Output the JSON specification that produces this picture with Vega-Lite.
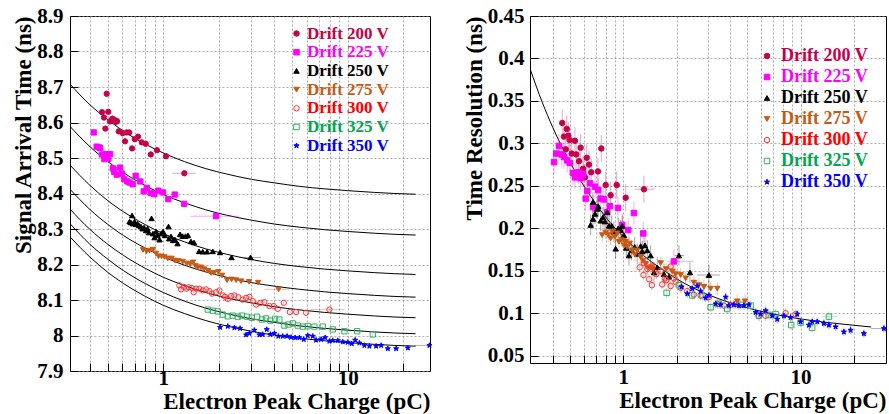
{
"$schema": "https://vega.github.io/schema/vega-lite/v6.json",
"padding": {"left": 12, "top": 4, "right": 2, "bottom": 0},
"spacing": 27,
"config": {
 "view": {"stroke": "#000", "strokeWidth": 1},
 "axis": {"labelFont": "Liberation Serif", "labelFontWeight": "bold", "labelFontSize": 21, "labelColor": "#000", "titleFont": "Liberation Serif", "titleFontWeight": "bold", "titleFontSize": 23, "titleColor": "#000", "domain": false, "grid": true, "gridColor": "#888", "gridDash": [2, 2], "gridWidth": 0.7, "tickColor": "#000", "tickSize": -8, "labelOverlap": false, "labelFlush": false},
 "legend": {"labelFont": "Liberation Serif", "labelFontWeight": "bold", "labelFontSize": 18, "symbolSize": 30, "symbolStrokeWidth": 1, "symbolOpacity": 1, "padding": 0}
},
"datasets": {
 "EL": [{"s":"200","e":0.008},{"s":"225","e":0.006},{"s":"250","e":0.005},{"s":"275","e":0.004},{"s":"300","e":0.004},{"s":"325","e":0.003},{"s":"350","e":0.002}],
 "ER": [{"s":"200","e":0.016},{"s":"225","e":0.014},{"s":"250","e":0.012},{"s":"275","e":0.008},{"s":"300","e":0.006},{"s":"325","e":0.006},{"s":"350","e":0.005}],
 "L": [
{"s":"200","x":0.465,"y":8.629},{"s":"200","x":0.477,"y":8.614},{"s":"200","x":0.493,"y":8.681},{"s":"200","x":0.485,"y":8.583},{"s":"200","x":0.503,"y":8.630},{"s":"200","x":0.514,"y":8.603},{"s":"200","x":0.529,"y":8.611},{"s":"200","x":0.542,"y":8.608},{"s":"200","x":0.554,"y":8.602},{"s":"200","x":0.561,"y":8.604},{"s":"200","x":0.573,"y":8.575},{"s":"200","x":0.602,"y":8.570},{"s":"200","x":0.620,"y":8.547},{"s":"200","x":0.633,"y":8.572},{"s":"200","x":0.654,"y":8.572},{"s":"200","x":0.677,"y":8.527},{"s":"200","x":0.700,"y":8.553},{"s":"200","x":0.729,"y":8.560},{"s":"200","x":0.764,"y":8.544},{"s":"200","x":0.803,"y":8.540},{"s":"200","x":0.855,"y":8.510},{"s":"200","x":0.924,"y":8.522},{"s":"200","x":1.034,"y":8.505},{"s":"200","x":1.300,"y":8.457,"xl":1.115,"xh":1.50},
{"s":"225","x":0.4195,"y":8.572},{"s":"225","x":0.435,"y":8.532},{"s":"225","x":0.448,"y":8.530},{"s":"225","x":0.454,"y":8.528},{"s":"225","x":0.465,"y":8.510},{"s":"225","x":0.479,"y":8.497},{"s":"225","x":0.491,"y":8.511},{"s":"225","x":0.503,"y":8.498},{"s":"225","x":0.514,"y":8.511},{"s":"225","x":0.532,"y":8.471},{"s":"225","x":0.542,"y":8.461},{"s":"225","x":0.559,"y":8.453},{"s":"225","x":0.582,"y":8.473},{"s":"225","x":0.597,"y":8.456},{"s":"225","x":0.614,"y":8.440},{"s":"225","x":0.638,"y":8.434},{"s":"225","x":0.657,"y":8.431},{"s":"225","x":0.682,"y":8.426},{"s":"225","x":0.708,"y":8.450},{"s":"225","x":0.750,"y":8.434},{"s":"225","x":0.783,"y":8.406},{"s":"225","x":0.813,"y":8.416},{"s":"225","x":0.855,"y":8.401},{"s":"225","x":0.894,"y":8.398},{"s":"225","x":0.939,"y":8.408},{"s":"225","x":0.996,"y":8.403},{"s":"225","x":1.064,"y":8.384},{"s":"225","x":1.153,"y":8.397},{"s":"225","x":1.295,"y":8.371},{"s":"225","x":1.931,"y":8.336,"xl":1.40,"xh":2.58},
{"s":"250","x":0.656,"y":8.321},{"s":"250","x":0.668,"y":8.318},{"s":"250","x":0.677,"y":8.338},{"s":"250","x":0.685,"y":8.315},{"s":"250","x":0.698,"y":8.321},{"s":"250","x":0.711,"y":8.313},{"s":"250","x":0.725,"y":8.315},{"s":"250","x":0.738,"y":8.310},{"s":"250","x":0.757,"y":8.307},{"s":"250","x":0.771,"y":8.301},{"s":"250","x":0.786,"y":8.304},{"s":"250","x":0.806,"y":8.296},{"s":"250","x":0.821,"y":8.301},{"s":"250","x":0.863,"y":8.330},{"s":"250","x":0.836,"y":8.290},{"s":"250","x":0.879,"y":8.287},{"s":"250","x":0.896,"y":8.276},{"s":"250","x":0.913,"y":8.293},{"s":"250","x":0.930,"y":8.282},{"s":"250","x":0.954,"y":8.270},{"s":"250","x":0.972,"y":8.287},{"s":"250","x":0.996,"y":8.293},{"s":"250","x":1.021,"y":8.282},{"s":"250","x":1.067,"y":8.307},{"s":"250","x":1.074,"y":8.273},{"s":"250","x":1.101,"y":8.279},{"s":"250","x":1.129,"y":8.268},{"s":"250","x":1.157,"y":8.270},{"s":"250","x":1.194,"y":8.259},{"s":"250","x":1.232,"y":8.285},{"s":"250","x":1.271,"y":8.280},{"s":"250","x":1.320,"y":8.280},{"s":"250","x":1.361,"y":8.282},{"s":"250","x":1.413,"y":8.265},{"s":"250","x":1.467,"y":8.262},{"s":"250","x":1.562,"y":8.237},{"s":"250","x":1.636,"y":8.236},{"s":"250","x":1.726,"y":8.236},{"s":"250","x":1.853,"y":8.237},{"s":"250","x":2.030,"y":8.234},{"s":"250","x":2.343,"y":8.220},{"s":"250","x":2.971,"y":8.220,"xl":2.58,"xh":3.39},
{"s":"275","x":0.776,"y":8.241},{"s":"275","x":0.811,"y":8.237},{"s":"275","x":0.842,"y":8.239},{"s":"275","x":0.879,"y":8.242},{"s":"275","x":0.913,"y":8.231},{"s":"275","x":0.942,"y":8.223},{"s":"275","x":0.978,"y":8.223},{"s":"275","x":1.015,"y":8.221},{"s":"275","x":1.057,"y":8.217},{"s":"275","x":1.108,"y":8.217},{"s":"275","x":1.157,"y":8.211},{"s":"275","x":1.209,"y":8.210},{"s":"275","x":1.274,"y":8.208},{"s":"275","x":1.336,"y":8.203},{"s":"275","x":1.396,"y":8.201},{"s":"275","x":1.449,"y":8.206},{"s":"275","x":1.495,"y":8.196},{"s":"275","x":1.542,"y":8.192},{"s":"275","x":1.601,"y":8.192},{"s":"275","x":1.663,"y":8.187},{"s":"275","x":1.747,"y":8.182},{"s":"275","x":1.814,"y":8.176},{"s":"275","x":1.890,"y":8.177},{"s":"275","x":1.987,"y":8.179},{"s":"275","x":2.082,"y":8.169},{"s":"275","x":2.215,"y":8.156},{"s":"275","x":2.343,"y":8.158},{"s":"275","x":2.479,"y":8.156},{"s":"275","x":2.639,"y":8.153},{"s":"275","x":2.916,"y":8.151},{"s":"275","x":3.263,"y":8.149},{"s":"275","x":4.215,"y":8.130,"xl":3.53,"xh":4.82},
{"s":"300","x":1.221,"y":8.141},{"s":"300","x":1.247,"y":8.130},{"s":"300","x":1.290,"y":8.137},{"s":"300","x":1.332,"y":8.132},{"s":"300","x":1.373,"y":8.136},{"s":"300","x":1.426,"y":8.134},{"s":"300","x":1.462,"y":8.122},{"s":"300","x":1.504,"y":8.132},{"s":"300","x":1.568,"y":8.132},{"s":"300","x":1.636,"y":8.127},{"s":"300","x":1.704,"y":8.130},{"s":"300","x":1.776,"y":8.125},{"s":"300","x":1.837,"y":8.118},{"s":"300","x":1.931,"y":8.122},{"s":"300","x":2.012,"y":8.127},{"s":"300","x":2.100,"y":8.113},{"s":"300","x":2.161,"y":8.109},{"s":"300","x":2.235,"y":8.103},{"s":"300","x":2.328,"y":8.111},{"s":"300","x":2.427,"y":8.113},{"s":"300","x":2.551,"y":8.108},{"s":"300","x":2.696,"y":8.101},{"s":"300","x":2.809,"y":8.106},{"s":"300","x":2.928,"y":8.109},{"s":"300","x":3.054,"y":8.097},{"s":"300","x":3.183,"y":8.087},{"s":"300","x":3.358,"y":8.092},{"s":"300","x":3.529,"y":8.094},{"s":"300","x":3.757,"y":8.083},{"s":"300","x":3.970,"y":8.083},{"s":"300","x":4.173,"y":8.075},{"s":"300","x":4.498,"y":8.092},{"s":"300","x":4.849,"y":8.066},{"s":"300","x":5.245,"y":8.066},{"s":"300","x":5.940,"y":8.064},{"s":"300","x":7.948,"y":8.073,"xl":6.31,"xh":9.60},
{"s":"325","x":1.741,"y":8.073},{"s":"325","x":1.853,"y":8.070},{"s":"325","x":1.972,"y":8.068},{"s":"325","x":2.100,"y":8.059},{"s":"325","x":2.235,"y":8.054},{"s":"325","x":2.378,"y":8.056},{"s":"325","x":2.532,"y":8.053},{"s":"325","x":2.662,"y":8.056},{"s":"325","x":2.844,"y":8.053},{"s":"325","x":3.016,"y":8.050},{"s":"325","x":3.222,"y":8.053},{"s":"325","x":3.429,"y":8.045},{"s":"325","x":3.605,"y":8.048},{"s":"325","x":3.804,"y":8.042},{"s":"325","x":4.034,"y":8.047},{"s":"325","x":4.256,"y":8.045},{"s":"325","x":4.531,"y":8.028},{"s":"325","x":4.763,"y":8.031},{"s":"325","x":5.031,"y":8.034},{"s":"325","x":5.356,"y":8.028},{"s":"325","x":5.702,"y":8.025},{"s":"325","x":6.069,"y":8.026},{"s":"325","x":6.592,"y":8.025},{"s":"325","x":7.318,"y":8.025},{"s":"325","x":8.291,"y":8.017},{"s":"325","x":9.585,"y":8.012},{"s":"325","x":11.23,"y":8.012},{"s":"325","x":13.66,"y":8.003},
{"s":"350","x":2.030,"y":8.023},{"s":"350","x":2.235,"y":8.026},{"s":"350","x":2.427,"y":8.022},{"s":"350","x":2.606,"y":8.020},{"s":"350","x":2.809,"y":8.002},{"s":"350","x":2.928,"y":8.006},{"s":"350","x":3.115,"y":8.015},{"s":"350","x":3.316,"y":8.002},{"s":"350","x":3.459,"y":8.003},{"s":"350","x":3.637,"y":8.017},{"s":"350","x":3.804,"y":8.003},{"s":"350","x":3.999,"y":8.006},{"s":"350","x":4.204,"y":7.998},{"s":"350","x":4.441,"y":7.998},{"s":"350","x":4.686,"y":7.998},{"s":"350","x":4.926,"y":7.995},{"s":"350","x":5.179,"y":7.994},{"s":"350","x":5.464,"y":7.994},{"s":"350","x":5.773,"y":7.989},{"s":"350","x":6.069,"y":8.000},{"s":"350","x":6.460,"y":7.998},{"s":"350","x":6.732,"y":7.987},{"s":"350","x":7.166,"y":7.989},{"s":"350","x":7.533,"y":7.994},{"s":"350","x":7.948,"y":7.984},{"s":"350","x":8.291,"y":7.986},{"s":"350","x":8.826,"y":7.986},{"s":"350","x":9.396,"y":7.982},{"s":"350","x":10.0,"y":7.981},{"s":"350","x":10.51,"y":7.977},{"s":"350","x":10.96,"y":7.987},{"s":"350","x":11.56,"y":7.979},{"s":"350","x":12.30,"y":7.972},{"s":"350","x":13.10,"y":7.970},{"s":"350","x":14.24,"y":7.970},{"s":"350","x":15.16,"y":7.972},{"s":"350","x":16.48,"y":7.963},{"s":"350","x":18.28,"y":7.963},{"s":"350","x":21.16,"y":7.965},{"s":"350","x":27.70,"y":7.972,"xl":23.0,"xh":33.0}
 ],
 "LF": [
{"c":1,"x":0.312,"y":8.708},{"c":1,"x":0.4,"y":8.650},{"c":1,"x":0.5,"y":8.608},{"c":1,"x":0.65,"y":8.566},{"c":1,"x":0.8,"y":8.539},{"c":1,"x":1,"y":8.514},{"c":1,"x":1.3,"y":8.490},{"c":1,"x":1.7,"y":8.470},{"c":1,"x":2.2,"y":8.455},{"c":1,"x":3,"y":8.440},{"c":1,"x":4,"y":8.430},{"c":1,"x":5.5,"y":8.420},{"c":1,"x":7.5,"y":8.413},{"c":1,"x":10,"y":8.408},{"c":1,"x":14,"y":8.403},{"c":1,"x":18,"y":8.400},{"c":1,"x":23.3,"y":8.398},
{"c":2,"x":0.312,"y":8.589},{"c":2,"x":0.4,"y":8.532},{"c":2,"x":0.5,"y":8.490},{"c":2,"x":0.65,"y":8.449},{"c":2,"x":0.8,"y":8.422},{"c":2,"x":1,"y":8.397},{"c":2,"x":1.3,"y":8.374},{"c":2,"x":1.7,"y":8.354},{"c":2,"x":2.2,"y":8.339},{"c":2,"x":3,"y":8.325},{"c":2,"x":4,"y":8.314},{"c":2,"x":5.5,"y":8.305},{"c":2,"x":7.5,"y":8.298},{"c":2,"x":10,"y":8.293},{"c":2,"x":14,"y":8.288},{"c":2,"x":18,"y":8.285},{"c":2,"x":23.3,"y":8.283},
{"c":3,"x":0.312,"y":8.480},{"c":3,"x":0.4,"y":8.423},{"c":3,"x":0.5,"y":8.380},{"c":3,"x":0.65,"y":8.339},{"c":3,"x":0.8,"y":8.312},{"c":3,"x":1,"y":8.287},{"c":3,"x":1.3,"y":8.264},{"c":3,"x":1.7,"y":8.244},{"c":3,"x":2.2,"y":8.229},{"c":3,"x":3,"y":8.214},{"c":3,"x":4,"y":8.203},{"c":3,"x":5.5,"y":8.194},{"c":3,"x":7.5,"y":8.187},{"c":3,"x":10,"y":8.182},{"c":3,"x":14,"y":8.177},{"c":3,"x":18,"y":8.174},{"c":3,"x":23.3,"y":8.172},
{"c":4,"x":0.312,"y":8.412},{"c":4,"x":0.4,"y":8.355},{"c":4,"x":0.5,"y":8.313},{"c":4,"x":0.65,"y":8.272},{"c":4,"x":0.8,"y":8.246},{"c":4,"x":1,"y":8.222},{"c":4,"x":1.3,"y":8.198},{"c":4,"x":1.7,"y":8.179},{"c":4,"x":2.2,"y":8.164},{"c":4,"x":3,"y":8.149},{"c":4,"x":4,"y":8.139},{"c":4,"x":5.5,"y":8.130},{"c":4,"x":7.5,"y":8.123},{"c":4,"x":10,"y":8.118},{"c":4,"x":14,"y":8.113},{"c":4,"x":18,"y":8.110},{"c":4,"x":23.3,"y":8.108},
{"c":5,"x":0.312,"y":8.356},{"c":5,"x":0.4,"y":8.299},{"c":5,"x":0.5,"y":8.257},{"c":5,"x":0.65,"y":8.216},{"c":5,"x":0.8,"y":8.189},{"c":5,"x":1,"y":8.164},{"c":5,"x":1.3,"y":8.141},{"c":5,"x":1.7,"y":8.121},{"c":5,"x":2.2,"y":8.106},{"c":5,"x":3,"y":8.092},{"c":5,"x":4,"y":8.081},{"c":5,"x":5.5,"y":8.072},{"c":5,"x":7.5,"y":8.065},{"c":5,"x":10,"y":8.060},{"c":5,"x":14,"y":8.055},{"c":5,"x":18,"y":8.052},{"c":5,"x":23.3,"y":8.050},
{"c":6,"x":0.312,"y":8.315},{"c":6,"x":0.4,"y":8.257},{"c":6,"x":0.5,"y":8.215},{"c":6,"x":0.65,"y":8.173},{"c":6,"x":0.8,"y":8.146},{"c":6,"x":1,"y":8.121},{"c":6,"x":1.3,"y":8.097},{"c":6,"x":1.7,"y":8.077},{"c":6,"x":2.2,"y":8.062},{"c":6,"x":3,"y":8.047},{"c":6,"x":4,"y":8.037},{"c":6,"x":5.5,"y":8.027},{"c":6,"x":7.5,"y":8.020},{"c":6,"x":10,"y":8.015},{"c":6,"x":14,"y":8.010},{"c":6,"x":18,"y":8.007},{"c":6,"x":23.3,"y":8.005},
{"c":7,"x":0.312,"y":8.278},{"c":7,"x":0.4,"y":8.221},{"c":7,"x":0.5,"y":8.178},{"c":7,"x":0.65,"y":8.137},{"c":7,"x":0.8,"y":8.110},{"c":7,"x":1,"y":8.085},{"c":7,"x":1.3,"y":8.062},{"c":7,"x":1.7,"y":8.042},{"c":7,"x":2.2,"y":8.027},{"c":7,"x":3,"y":8.012},{"c":7,"x":4,"y":8.001},{"c":7,"x":5.5,"y":7.992},{"c":7,"x":7.5,"y":7.985},{"c":7,"x":10,"y":7.980},{"c":7,"x":14,"y":7.975},{"c":7,"x":18,"y":7.972},{"c":7,"x":23.3,"y":7.970}
 ],
 "R": [
{"s":"200","x":0.453,"y":0.324},{"s":"200","x":0.480,"y":0.317},{"s":"200","x":0.463,"y":0.308},{"s":"200","x":0.490,"y":0.309},{"s":"200","x":0.499,"y":0.304},{"s":"200","x":0.534,"y":0.303},{"s":"200","x":0.474,"y":0.293},{"s":"200","x":0.512,"y":0.288},{"s":"200","x":0.543,"y":0.287},{"s":"200","x":0.575,"y":0.295},{"s":"200","x":0.563,"y":0.279},{"s":"200","x":0.593,"y":0.270},{"s":"200","x":0.622,"y":0.283},{"s":"200","x":0.641,"y":0.275},{"s":"200","x":0.660,"y":0.266},{"s":"200","x":0.608,"y":0.260},{"s":"200","x":0.720,"y":0.267},{"s":"200","x":0.752,"y":0.294},{"s":"200","x":0.796,"y":0.251},{"s":"200","x":0.849,"y":0.239},{"s":"200","x":0.918,"y":0.251},{"s":"200","x":1.032,"y":0.236},{"s":"200","x":1.308,"y":0.246,"xl":1.16,"xh":1.51},
{"s":"225","x":0.407,"y":0.278},{"s":"225","x":0.419,"y":0.288},{"s":"225","x":0.434,"y":0.297},{"s":"225","x":0.450,"y":0.287},{"s":"225","x":0.463,"y":0.284},{"s":"225","x":0.483,"y":0.280},{"s":"225","x":0.499,"y":0.277},{"s":"225","x":0.521,"y":0.265},{"s":"225","x":0.534,"y":0.260},{"s":"225","x":0.558,"y":0.266},{"s":"225","x":0.575,"y":0.259},{"s":"225","x":0.595,"y":0.264},{"s":"225","x":0.614,"y":0.235},{"s":"225","x":0.627,"y":0.244},{"s":"225","x":0.649,"y":0.253},{"s":"225","x":0.675,"y":0.225},{"s":"225","x":0.693,"y":0.249},{"s":"225","x":0.723,"y":0.245},{"s":"225","x":0.746,"y":0.235},{"s":"225","x":0.778,"y":0.234},{"s":"225","x":0.812,"y":0.219},{"s":"225","x":0.841,"y":0.226},{"s":"225","x":0.933,"y":0.224},{"s":"225","x":0.987,"y":0.204},{"s":"225","x":1.067,"y":0.198},{"s":"225","x":1.149,"y":0.218},{"s":"225","x":1.296,"y":0.194},{"s":"225","x":1.931,"y":0.161,"xl":1.76,"xh":2.48},
{"s":"250","x":0.655,"y":0.204},{"s":"250","x":0.675,"y":0.211},{"s":"250","x":0.675,"y":0.231},{"s":"250","x":0.693,"y":0.217},{"s":"250","x":0.714,"y":0.223},{"s":"250","x":0.723,"y":0.226},{"s":"250","x":0.746,"y":0.209},{"s":"250","x":0.768,"y":0.213},{"s":"250","x":0.789,"y":0.208},{"s":"250","x":0.812,"y":0.219},{"s":"250","x":0.831,"y":0.203},{"s":"250","x":0.860,"y":0.203},{"s":"250","x":0.886,"y":0.196},{"s":"250","x":0.906,"y":0.176},{"s":"250","x":0.937,"y":0.200},{"s":"250","x":0.967,"y":0.198},{"s":"250","x":0.987,"y":0.203},{"s":"250","x":1.009,"y":0.192},{"s":"250","x":1.040,"y":0.177},{"s":"250","x":1.077,"y":0.168},{"s":"250","x":1.115,"y":0.174},{"s":"250","x":1.160,"y":0.178},{"s":"250","x":1.199,"y":0.170},{"s":"250","x":1.254,"y":0.179},{"s":"250","x":1.280,"y":0.173},{"s":"250","x":1.325,"y":0.180},{"s":"250","x":1.366,"y":0.174},{"s":"250","x":1.427,"y":0.168},{"s":"250","x":1.490,"y":0.148},{"s":"250","x":1.555,"y":0.154},{"s":"250","x":1.696,"y":0.146},{"s":"250","x":1.810,"y":0.143},{"s":"250","x":2.061,"y":0.168,"xl":1.95,"xh":2.2},{"s":"250","x":2.377,"y":0.148},{"s":"250","x":3.041,"y":0.145,"xl":2.61,"xh":3.51},
{"s":"275","x":0.761,"y":0.192},{"s":"275","x":0.796,"y":0.195},{"s":"275","x":0.823,"y":0.192},{"s":"275","x":0.849,"y":0.188},{"s":"275","x":0.867,"y":0.196},{"s":"275","x":0.898,"y":0.190},{"s":"275","x":0.925,"y":0.194},{"s":"275","x":0.946,"y":0.184},{"s":"275","x":0.979,"y":0.186},{"s":"275","x":1.009,"y":0.180},{"s":"275","x":1.032,"y":0.184},{"s":"275","x":1.053,"y":0.178},{"s":"275","x":1.087,"y":0.182},{"s":"275","x":1.124,"y":0.174},{"s":"275","x":1.164,"y":0.169},{"s":"275","x":1.199,"y":0.174},{"s":"275","x":1.254,"y":0.166},{"s":"275","x":1.291,"y":0.162},{"s":"275","x":1.338,"y":0.158},{"s":"275","x":1.378,"y":0.153},{"s":"275","x":1.427,"y":0.154},{"s":"275","x":1.470,"y":0.152},{"s":"275","x":1.625,"y":0.159},{"s":"275","x":1.747,"y":0.152},{"s":"275","x":1.889,"y":0.149},{"s":"275","x":1.974,"y":0.146},{"s":"275","x":2.107,"y":0.145},{"s":"275","x":2.248,"y":0.141},{"s":"275","x":2.503,"y":0.136},{"s":"275","x":2.672,"y":0.133},{"s":"275","x":2.850,"y":0.131},{"s":"275","x":3.109,"y":0.129},{"s":"275","x":3.388,"y":0.129},{"s":"275","x":4.391,"y":0.114},{"s":"275","x":4.853,"y":0.114},
{"s":"300","x":1.237,"y":0.154},{"s":"300","x":1.308,"y":0.159},{"s":"300","x":1.366,"y":0.152},{"s":"300","x":1.446,"y":0.155},{"s":"300","x":1.535,"y":0.146},{"s":"300","x":1.625,"y":0.150},{"s":"300","x":1.718,"y":0.141},{"s":"300","x":1.850,"y":0.155},{"s":"300","x":1.931,"y":0.141},{"s":"300","x":1.659,"y":0.134},{"s":"300","x":1.747,"y":0.139},{"s":"300","x":1.850,"y":0.132},{"s":"300","x":1.974,"y":0.137},{"s":"300","x":2.107,"y":0.130},{"s":"300","x":2.296,"y":0.126},{"s":"300","x":2.503,"y":0.122},{"s":"300","x":2.731,"y":0.121},{"s":"300","x":3.041,"y":0.119},{"s":"300","x":3.388,"y":0.111},{"s":"300","x":3.695,"y":0.109},{"s":"300","x":4.030,"y":0.110},{"s":"300","x":4.300,"y":0.111},{"s":"300","x":5.821,"y":0.097},{"s":"300","x":6.349,"y":0.097},{"s":"300","x":8.232,"y":0.100},{"s":"300","x":9.373,"y":0.099},{"s":"300","x":1.40,"y":0.140},{"s":"300","x":1.45,"y":0.133},{"s":"300","x":1.30,"y":0.145},
{"s":"325","x":1.756,"y":0.124},{"s":"325","x":2.061,"y":0.133},{"s":"325","x":2.449,"y":0.121},{"s":"325","x":2.789,"y":0.121},{"s":"325","x":3.109,"y":0.107},{"s":"325","x":3.464,"y":0.111},{"s":"325","x":3.857,"y":0.105},{"s":"325","x":4.590,"y":0.110},{"s":"325","x":5.226,"y":0.109},{"s":"325","x":5.821,"y":0.097},{"s":"325","x":6.627,"y":0.098},{"s":"325","x":7.228,"y":0.099},{"s":"325","x":8.851,"y":0.086},{"s":"325","x":10.0,"y":0.089},{"s":"325","x":11.62,"y":0.083},{"s":"325","x":14.44,"y":0.096,"xl":13.2,"xh":16.1},
{"s":"350","x":2.134,"y":0.131},{"s":"350","x":2.296,"y":0.123},{"s":"350","x":2.449,"y":0.129},{"s":"350","x":2.613,"y":0.132},{"s":"350","x":2.731,"y":0.126},{"s":"350","x":2.914,"y":0.118},{"s":"350","x":3.041,"y":0.121},{"s":"350","x":3.318,"y":0.111},{"s":"350","x":3.540,"y":0.110},{"s":"350","x":3.777,"y":0.119},{"s":"350","x":3.943,"y":0.109},{"s":"350","x":4.207,"y":0.110},{"s":"350","x":4.489,"y":0.109},{"s":"350","x":4.789,"y":0.109},{"s":"350","x":5.110,"y":0.110},{"s":"350","x":5.577,"y":0.101},{"s":"350","x":5.951,"y":0.099},{"s":"350","x":6.349,"y":0.103},{"s":"350","x":6.918,"y":0.097},{"s":"350","x":7.381,"y":0.093},{"s":"350","x":8.053,"y":0.097},{"s":"350","x":8.782,"y":0.095},{"s":"350","x":9.568,"y":0.099},{"s":"350","x":10.0,"y":0.090},{"s":"350","x":11.14,"y":0.086},{"s":"350","x":11.63,"y":0.090},{"s":"350","x":12.41,"y":0.090},{"s":"350","x":13.53,"y":0.088},{"s":"350","x":14.44,"y":0.086},{"s":"350","x":15.75,"y":0.084},{"s":"350","x":17.54,"y":0.078},{"s":"350","x":19.13,"y":0.080},{"s":"350","x":22.74,"y":0.076},{"s":"350","x":29.5,"y":0.082,"xl":25,"xh":34}
 ],
 "RF": [
{"x":0.298,"y":0.388},{"x":0.35,"y":0.348},{"x":0.4,"y":0.319},{"x":0.5,"y":0.278},{"x":0.6,"y":0.250},{"x":0.7,"y":0.229},{"x":0.85,"y":0.206},{"x":1,"y":0.190},{"x":1.3,"y":0.168},{"x":1.7,"y":0.150},{"x":2.2,"y":0.1355},{"x":3,"y":0.122},{"x":4,"y":0.1124},{"x":5.5,"y":0.1041},{"x":7.5,"y":0.0978},{"x":10,"y":0.0933},{"x":14,"y":0.0892},{"x":18,"y":0.0868},{"x":25,"y":0.0838}
 ]
},
"resolve": {"scale": {"shape": "independent", "fill": "independent", "stroke": "independent"}, "legend": {"shape": "independent", "fill": "independent", "stroke": "independent"}},
"hconcat": [
 {
  "width": 360, "height": 355,
  "encoding": {
   "x": {"field": "x", "type": "quantitative", "scale": {"type": "log", "domain": [0.312, 27.9], "nice": false},
         "axis": {"title": "Electron Peak Charge (pC)", "titleAnchor": "end", "titlePadding": 2, "values": [0.4,0.5,0.6,0.7,0.8,0.9,1,2,3,4,5,6,7,8,9,10,20], "labelExpr": "datum.value == 1 || datum.value == 10 ? '' + datum.value : ''", "labelPadding": 4}},
   "y": {"field": "y", "type": "quantitative", "scale": {"domain": [7.9, 8.9], "nice": false, "zero": false},
         "axis": {"title": "Signal Arrival Time (ns)", "titleAnchor": "end", "titlePadding": 1, "values": [7.9,8,8.1,8.2,8.3,8.4,8.5,8.6,8.7,8.8,8.9], "labelExpr": "'' + datum.value", "labelPadding": 15}}
  },
  "layer": [
   {"data": {"name": "LF"}, "mark": {"type": "line", "color": "#000", "strokeWidth": 1, "clip": true, "interpolate": "monotone"}, "encoding": {"detail": {"field": "c", "type": "nominal"}}},
   {"data": {"name": "L"}, "transform": [{"lookup": "s", "from": {"data": {"name": "EL"}, "key": "s", "fields": ["e"]}}],
    "mark": {"type": "errorbar", "ticks": false, "thickness": 1, "opacity": 0.35},
    "encoding": {"yError": {"field": "e"},
     "stroke": {"field": "s", "type": "nominal", "scale": {"domain": ["200","225","250","275","300","325","350"], "range": ["#c8004a","#ff00ff","#000000","#c85a14","#ff3030","#30b060","#0000ff"]},
       "legend": {"title": null, "orient": "none", "legendX": 218, "legendY": 9, "labelOffset": 2, "rowPadding": 0.7, "labelFontSize": 17, "symbolOpacity": 1, "labelExpr": "'Drift ' + datum.label + ' V'", "labelColor": {"expr": "['#c8004a','#ff00ff','#000000','#c85a14','#ff0000','#00a651','#0000ff'][indexof(['200','225','250','275','300','325','350'], datum.value)]"}}}}},
   {"data": {"name": "L"}, "transform": [{"filter": "isValid(datum.xl)"}],
    "mark": {"type": "rule", "strokeWidth": 1, "clip": true, "opacity": 0.35},
    "encoding": {"x": {"field": "xl", "type": "quantitative", "scale": {"type": "log", "domain": [0.312, 27.9], "nice": false},
         "axis": {"title": "Electron Peak Charge (pC)", "titleAnchor": "end", "titlePadding": 2, "values": [0.4,0.5,0.6,0.7,0.8,0.9,1,2,3,4,5,6,7,8,9,10,20], "labelExpr": "datum.value == 1 || datum.value == 10 ? '' + datum.value : ''", "labelPadding": 4}}, "x2": {"field": "xh"},
     "stroke": {"field": "s", "type": "nominal", "scale": {"domain": ["200","225","250","275","300","325","350"], "range": ["#c8004a","#ff00ff","#000000","#c85a14","#ff3030","#30b060","#0000ff"]},
       "legend": {"title": null, "orient": "none", "legendX": 218, "legendY": 9, "labelOffset": 2, "rowPadding": 0.7, "labelFontSize": 17, "symbolOpacity": 1, "labelExpr": "'Drift ' + datum.label + ' V'", "labelColor": {"expr": "['#c8004a','#ff00ff','#000000','#c85a14','#ff0000','#00a651','#0000ff'][indexof(['200','225','250','275','300','325','350'], datum.value)]"}}}}},
   {"data": {"name": "L"}, "mark": {"type": "point", "size": 28, "strokeWidth": 1, "opacity": 1},
    "encoding": {
     "shape": {"field": "s", "type": "nominal", "scale": {"domain": ["200","225","250","275","300","325","350"], "range": ["circle","square","triangle-up","triangle-down","circle","square","M0,-1L0.225,-0.31L0.951,-0.309L0.363,0.118L0.588,0.809L0,0.382L-0.588,0.809L-0.363,0.118L-0.951,-0.309L-0.225,-0.31Z"]},
       "legend": {"title": null, "orient": "none", "legendX": 218, "legendY": 9, "labelOffset": 2, "rowPadding": 0.7, "labelFontSize": 17, "symbolOpacity": 1, "labelExpr": "'Drift ' + datum.label + ' V'", "labelColor": {"expr": "['#c8004a','#ff00ff','#000000','#c85a14','#ff0000','#00a651','#0000ff'][indexof(['200','225','250','275','300','325','350'], datum.value)]"}}},
     "fill": {"field": "s", "type": "nominal", "scale": {"domain": ["200","225","250","275","300","325","350"], "range": ["#c8004a","#ff00ff","#000000","#c85a14","transparent","transparent","#0000ff"]},
       "legend": {"title": null, "orient": "none", "legendX": 218, "legendY": 9, "labelOffset": 2, "rowPadding": 0.7, "labelFontSize": 17, "symbolOpacity": 1, "labelExpr": "'Drift ' + datum.label + ' V'", "labelColor": {"expr": "['#c8004a','#ff00ff','#000000','#c85a14','#ff0000','#00a651','#0000ff'][indexof(['200','225','250','275','300','325','350'], datum.value)]"}}},
     "stroke": {"field": "s", "type": "nominal", "scale": {"domain": ["200","225","250","275","300","325","350"], "range": ["#c8004a","#ff00ff","#000000","#c85a14","#ff3030","#30b060","#0000ff"]},
       "legend": {"title": null, "orient": "none", "legendX": 218, "legendY": 9, "labelOffset": 2, "rowPadding": 0.7, "labelFontSize": 17, "symbolOpacity": 1, "labelExpr": "'Drift ' + datum.label + ' V'", "labelColor": {"expr": "['#c8004a','#ff00ff','#000000','#c85a14','#ff0000','#00a651','#0000ff'][indexof(['200','225','250','275','300','325','350'], datum.value)]"}}}
    }}
  ]
 },
 {
  "width": 356, "height": 347,
  "encoding": {
   "x": {"field": "x", "type": "quantitative", "scale": {"type": "log", "domain": [0.298, 30.3], "nice": false},
         "axis": {"title": "Electron Peak Charge (pC)", "titleAnchor": "end", "titlePadding": 2, "values": [0.4,0.5,0.6,0.7,0.8,0.9,1,2,3,4,5,6,7,8,9,10,20], "labelExpr": "datum.value == 1 || datum.value == 10 ? '' + datum.value : ''", "labelPadding": 11}},
   "y": {"field": "y", "type": "quantitative", "scale": {"domain": [0.0414, 0.45], "nice": false, "zero": false},
         "axis": {"title": "Time Resolution (ns)", "titleAnchor": "end", "titlePadding": 1, "values": [0.05,0.1,0.15,0.2,0.25,0.3,0.35,0.4,0.45], "labelExpr": "'' + datum.value", "labelPadding": 14}}
  },
  "layer": [
   {"data": {"name": "RF"}, "mark": {"type": "line", "color": "#000", "strokeWidth": 1, "clip": true, "interpolate": "monotone"}, "encoding": {}},
   {"data": {"name": "R"}, "transform": [{"lookup": "s", "from": {"data": {"name": "ER"}, "key": "s", "fields": ["e"]}}],
    "mark": {"type": "errorbar", "ticks": false, "thickness": 1, "opacity": 0.35},
    "encoding": {"yError": {"field": "e"},
     "stroke": {"field": "s", "type": "nominal", "scale": {"domain": ["200","225","250","275","300","325","350"], "range": ["#c8004a","#ff00ff","#000000","#c85a14","#ff3030","#30b060","#0000ff"]},
       "legend": {"title": null, "orient": "none", "legendX": 228, "legendY": 31, "labelOffset": 5, "rowPadding": 3, "symbolOpacity": 1, "labelExpr": "'Drift ' + datum.label + ' V'", "labelColor": {"expr": "['#c8004a','#ff00ff','#000000','#c85a14','#ff0000','#00a651','#0000ff'][indexof(['200','225','250','275','300','325','350'], datum.value)]"}}}}},
   {"data": {"name": "R"}, "transform": [{"filter": "isValid(datum.xl)"}],
    "mark": {"type": "rule", "strokeWidth": 1, "clip": true, "opacity": 0.35},
    "encoding": {"x": {"field": "xl", "type": "quantitative", "scale": {"type": "log", "domain": [0.298, 30.3], "nice": false},
         "axis": {"title": "Electron Peak Charge (pC)", "titleAnchor": "end", "titlePadding": 2, "values": [0.4,0.5,0.6,0.7,0.8,0.9,1,2,3,4,5,6,7,8,9,10,20], "labelExpr": "datum.value == 1 || datum.value == 10 ? '' + datum.value : ''", "labelPadding": 11}}, "x2": {"field": "xh"},
     "stroke": {"field": "s", "type": "nominal", "scale": {"domain": ["200","225","250","275","300","325","350"], "range": ["#c8004a","#ff00ff","#000000","#c85a14","#ff3030","#30b060","#0000ff"]},
       "legend": {"title": null, "orient": "none", "legendX": 228, "legendY": 31, "labelOffset": 5, "rowPadding": 3, "symbolOpacity": 1, "labelExpr": "'Drift ' + datum.label + ' V'", "labelColor": {"expr": "['#c8004a','#ff00ff','#000000','#c85a14','#ff0000','#00a651','#0000ff'][indexof(['200','225','250','275','300','325','350'], datum.value)]"}}}}},
   {"data": {"name": "R"}, "mark": {"type": "point", "size": 30, "strokeWidth": 1, "opacity": 1},
    "encoding": {
     "shape": {"field": "s", "type": "nominal", "scale": {"domain": ["200","225","250","275","300","325","350"], "range": ["circle","square","triangle-up","triangle-down","circle","square","M0,-1L0.225,-0.31L0.951,-0.309L0.363,0.118L0.588,0.809L0,0.382L-0.588,0.809L-0.363,0.118L-0.951,-0.309L-0.225,-0.31Z"]},
       "legend": {"title": null, "orient": "none", "legendX": 228, "legendY": 31, "labelOffset": 5, "rowPadding": 3, "symbolOpacity": 1, "labelExpr": "'Drift ' + datum.label + ' V'", "labelColor": {"expr": "['#c8004a','#ff00ff','#000000','#c85a14','#ff0000','#00a651','#0000ff'][indexof(['200','225','250','275','300','325','350'], datum.value)]"}}},
     "fill": {"field": "s", "type": "nominal", "scale": {"domain": ["200","225","250","275","300","325","350"], "range": ["#c8004a","#ff00ff","#000000","#c85a14","transparent","transparent","#0000ff"]},
       "legend": {"title": null, "orient": "none", "legendX": 228, "legendY": 31, "labelOffset": 5, "rowPadding": 3, "symbolOpacity": 1, "labelExpr": "'Drift ' + datum.label + ' V'", "labelColor": {"expr": "['#c8004a','#ff00ff','#000000','#c85a14','#ff0000','#00a651','#0000ff'][indexof(['200','225','250','275','300','325','350'], datum.value)]"}}},
     "stroke": {"field": "s", "type": "nominal", "scale": {"domain": ["200","225","250","275","300","325","350"], "range": ["#c8004a","#ff00ff","#000000","#c85a14","#ff3030","#30b060","#0000ff"]},
       "legend": {"title": null, "orient": "none", "legendX": 228, "legendY": 31, "labelOffset": 5, "rowPadding": 3, "symbolOpacity": 1, "labelExpr": "'Drift ' + datum.label + ' V'", "labelColor": {"expr": "['#c8004a','#ff00ff','#000000','#c85a14','#ff0000','#00a651','#0000ff'][indexof(['200','225','250','275','300','325','350'], datum.value)]"}}}
    }}
  ]
 }
]
}
